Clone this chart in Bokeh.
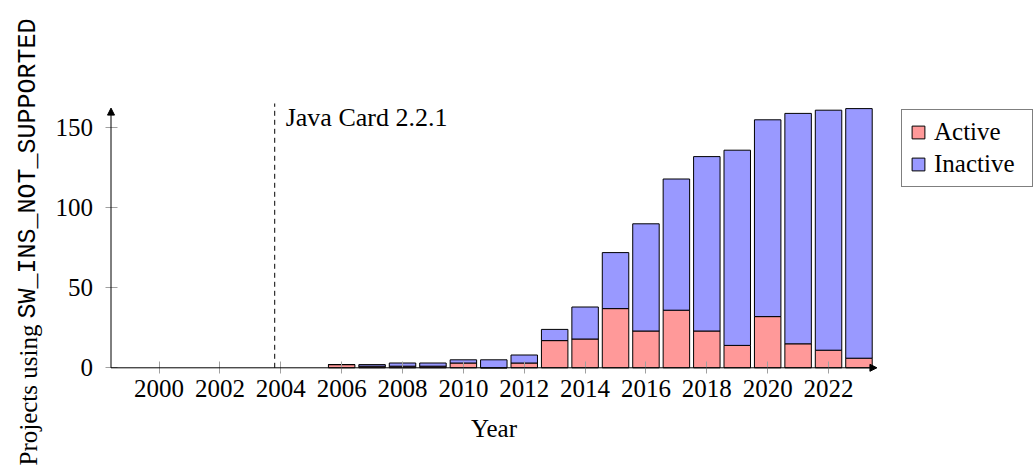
import numpy as np
from bokeh.plotting import figure
from bokeh.models import ColumnDataSource, FixedTicker, Label, Arrow, NormalHead
from bokeh.embed import file_html
from bokeh.resources import INLINE

# ---- data ----
years = [2006, 2007, 2008, 2009, 2010, 2011, 2012, 2013, 2014, 2015,
         2016, 2017, 2018, 2019, 2020, 2021, 2022, 2023]
active = [2, 1, 1, 1, 3, 0, 3, 17, 18, 37, 23, 36, 23, 14, 32, 15, 11, 6]
inactive = [0, 1, 2, 2, 2, 5, 5, 7, 20, 35, 67, 82, 109, 122, 123, 144, 150, 156]
series_names = ["Active", "Inactive"]
x_ticks = list(range(2000, 2023, 2))
y_ticks = [0, 50, 100, 150]
release_year = 2003.8
release_text = "Java Card 2.2.1"

# ---- layout constants (pixels) ----
W, H = 1035, 469
SERIF = "Liberation Serif"
MONO = "Liberation Mono"
FS = "25px"
X0, X1 = 1998.42, 2023.59      # axis extent (data)
Y0, Y1 = 0, 162.3
AX_LEFT_PX = 110.5              # canvas x of the y axis
AX_BOTTOM_PX = 367.3            # canvas y of the x axis
PX_PER_YEAR = 30.43
PX_PER_UNIT = 1.6

x_range = (X0 - AX_LEFT_PX / PX_PER_YEAR, X0 + (W - AX_LEFT_PX) / PX_PER_YEAR)
y_range = (-(H - AX_BOTTOM_PX) / PX_PER_UNIT, AX_BOTTOM_PX / PX_PER_UNIT)

source = ColumnDataSource(dict(year=years, active=active, inactive=inactive))

p = figure(width=W, height=H, output_backend="svg", toolbar_location=None,
           x_range=x_range, y_range=y_range,
           min_border=0, min_border_left=0, min_border_right=0,
           min_border_top=0, min_border_bottom=0)

p.vbar_stack(["active", "inactive"], x="year", width=0.87, source=source,
             fill_color=["#ff9999", "#9999ff"], line_color="black", line_width=1,
             legend_label=series_names)

p.outline_line_color = None
p.grid.visible = False

p.xaxis.fixed_location = 0
p.yaxis.fixed_location = X0
p.xaxis.bounds = (X0, X1)
p.yaxis.bounds = (Y0, Y1)

for ax in (p.xaxis, p.yaxis):
    ax.axis_line_color = None
    ax.major_tick_line_color = "#a0a0a0"
    ax.major_tick_in = 6
    ax.major_tick_out = 6
    ax.minor_tick_line_color = None
    ax.major_label_text_font = SERIF
    ax.major_label_text_font_size = FS
    ax.major_label_text_color = "black"

p.xaxis.ticker = FixedTicker(ticks=x_ticks)
p.yaxis.ticker = FixedTicker(ticks=y_ticks)
p.xaxis.major_label_standoff = 6
p.yaxis.major_label_standoff = 12
p.xaxis.axis_label = "Year"
p.xaxis.axis_label_text_font = SERIF
p.xaxis.axis_label_text_font_size = FS
p.xaxis.axis_label_text_font_style = "normal"
p.xaxis.axis_label_text_color = "black"
p.xaxis.axis_label_standoff = 15

# axis lines with arrow heads
p.add_layout(Arrow(end=NormalHead(size=7, fill_color="black", line_color="black"),
                   x_start=X0, y_start=Y0, x_end=X1, y_end=Y0,
                   line_color="black", line_width=1))
p.add_layout(Arrow(end=NormalHead(size=7, fill_color="black", line_color="black"),
                   x_start=X0, y_start=Y0, x_end=X0, y_end=Y1,
                   line_color="black", line_width=1))

# release marker
p.add_layout(Arrow(end=None, x_start=release_year, y_start=0,
                   x_end=release_year, y_end=165.2,
                   line_color="black", line_width=1, line_dash="5 4"))
p.add_layout(Label(x=release_year, y=156.75, x_offset=11, text=release_text,
                   text_font=SERIF, text_font_size="26px", text_baseline="alphabetic",
                   text_color="black"))

# y axis label (mixed fonts), screen units measured from the frame's bottom-left
p.add_layout(Label(x=28, y=4, x_units="screen", y_units="screen",
                   text="Projects using", angle=np.pi / 2,
                   text_font=SERIF, text_font_size=FS, text_baseline="alphabetic",
                   text_align="left", text_color="black"))
p.add_layout(Label(x=28, y=151, x_units="screen", y_units="screen",
                   text="SW_INS_NOT_SUPPORTED", angle=np.pi / 2,
                   text_font=MONO, text_font_size=FS, text_baseline="alphabetic",
                   text_align="left", text_color="black"))

# legend
lg = p.legend[0]
lg.location = (901, H - 187)
lg.border_line_color = "black"
lg.border_line_width = 1
lg.background_fill_color = "white"
lg.background_fill_alpha = 1
lg.padding = 8
lg.spacing = 4
lg.margin = 0
lg.label_standoff = 8
lg.label_width = 90
lg.glyph_width = 16
lg.glyph_height = 16
lg.label_text_font = SERIF
lg.label_text_font_size = FS
lg.label_text_color = "black"

open("out.html", "w").write(file_html(p, INLINE))
